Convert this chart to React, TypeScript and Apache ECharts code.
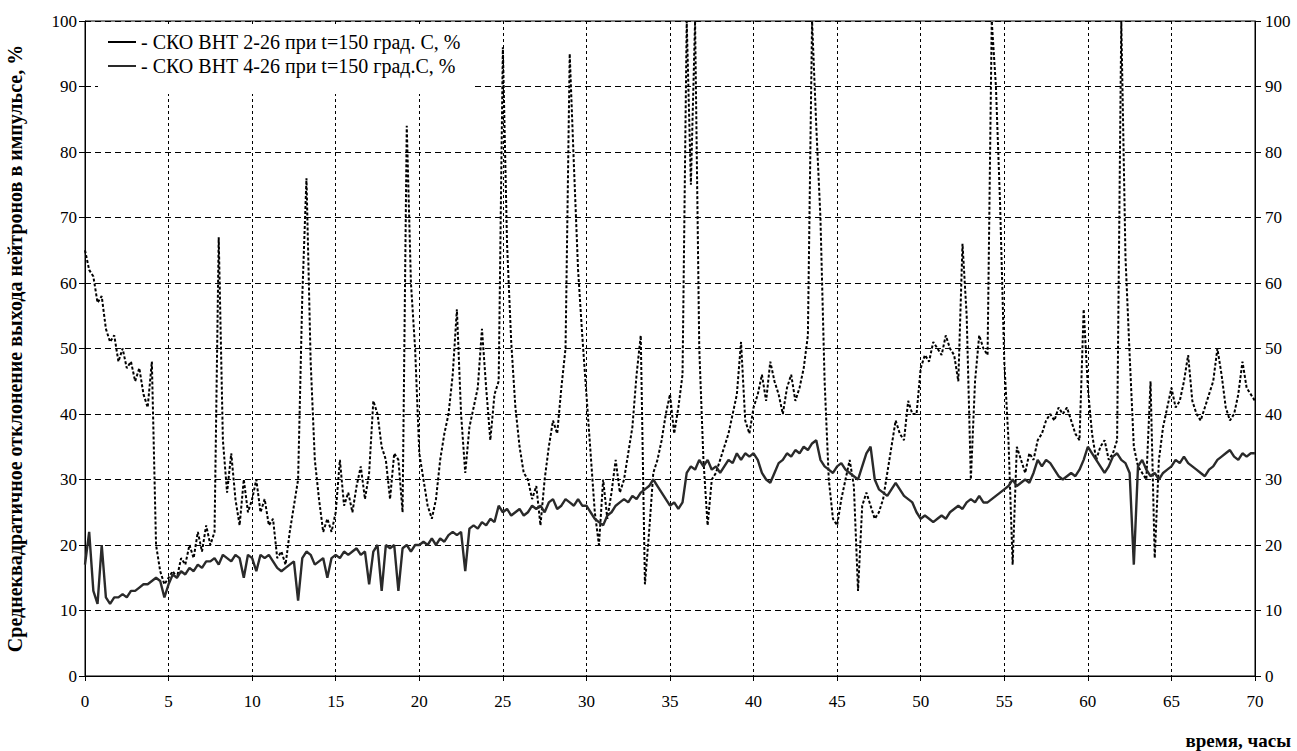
import React, { useEffect, useRef } from "react";
import * as echarts from "echarts";

// time step between samples, hours
const STEP = 0.25;

const xTicks = [0, 5, 10, 15, 20, 25, 30, 35, 40, 45, 50, 55, 60, 65, 70];
const yTicks = [0, 10, 20, 30, 40, 50, 60, 70, 80, 90, 100];

const seriesNames = [
  "СКО ВНТ 2-26 при t=150 град. С, %",
  "СКО ВНТ 4-26 при t=150 град.С, %",
];

// СКО ВНТ 2-26 (dotted), t = 0 .. 70 h, step 0.25 h
const vnt226 = [
  65, 62, 61, 57, 58, 53, 51, 52, 48, 50, 47, 48, 45, 47, 43, 41, 48, 20, 16, 14,
  15, 16, 15, 18, 17, 20, 18, 22, 19, 23, 20, 22, 67, 36, 28, 34, 27, 23, 30, 25,
  27, 30, 25, 27, 23, 24, 18, 19, 17, 22, 26, 30, 58, 76, 48, 33, 27, 22, 24, 22,
  25, 33, 26, 28, 25, 29, 32, 27, 31, 42, 40, 35, 33, 27, 34, 33, 25, 84, 60, 50,
  34, 30, 26, 24, 27, 33, 37, 40, 46, 56, 40, 31, 38, 41, 44, 53, 44, 36, 43, 45,
  96, 66, 51, 41, 35, 31, 30, 27, 29, 23, 30, 35, 39, 37, 44, 50, 95, 78, 62, 52,
  43, 34, 25, 20, 30, 24, 28, 33, 28, 30, 34, 38, 46, 52, 14, 22, 31, 33, 36, 40,
  43, 37, 41, 46, 100, 75, 100, 50, 33, 23, 30, 31, 33, 35, 37, 40, 43, 51, 39, 37,
  41, 43, 46, 42, 48, 45, 43, 40, 44, 46, 42, 44, 47, 52, 100, 84, 70, 45, 30, 24,
  23, 27, 30, 33, 29, 13, 26, 28, 26, 24, 25, 27, 31, 35, 39, 37, 36, 42, 40, 40,
  47, 49, 48, 51, 50, 49, 52, 50, 49, 45, 66, 55, 30, 45, 52, 50, 49, 100, 90, 72,
  48, 36, 17, 35, 33, 31, 34, 33, 36, 37, 39, 40, 39, 41, 40, 41, 39, 37, 36, 56,
  44, 37, 33, 35, 36, 33, 34, 36, 100, 64, 49, 35, 32, 31, 30, 45, 18, 33, 38, 41,
  44, 41, 42, 45, 49, 42, 40, 39, 41, 43, 45, 50, 46, 41, 39, 40, 43, 48, 44, 43,
  42,
];

// СКО ВНТ 4-26 (solid), t = 0 .. 70 h, step 0.25 h
const vnt426 = [
  17, 22, 13, 11, 20, 12, 11, 12, 12, 12.5, 12, 13, 13, 13.5, 14, 14, 14.5, 15, 14.5, 12,
  14, 15.5, 15, 16, 15.5, 16.5, 16, 17, 16.5, 17.5, 17.5, 18, 17, 18.5, 18, 17.5, 18.5, 18, 15, 18.5,
  18, 16, 18.5, 18, 18.5, 17.5, 16.5, 16, 16.5, 17, 17.5, 11.5, 18, 19, 18.5, 17, 17.5, 18, 15, 18,
  18.5, 18, 19, 18.5, 19, 19.5, 18.5, 19, 14, 19, 20, 13, 20, 19.5, 20, 13, 19.5, 20, 19, 20,
  20, 20.5, 20, 21, 20, 21, 20.5, 21.5, 22, 21.5, 22, 16, 22.5, 23, 22.5, 23.5, 23, 24, 23.5, 26,
  25, 25.5, 24.5, 25, 25.5, 24.5, 25, 26, 25.5, 26, 25, 26.5, 27, 25.5, 26, 27, 26.5, 26, 27, 26,
  26, 25, 24, 23.5, 23, 24.5, 25, 26, 26.5, 27, 26.5, 27.5, 27, 28, 28.5, 29, 30, 29, 28, 27,
  26, 26.5, 25.5, 26.5, 31, 32, 31.5, 33, 32, 33, 31.5, 32, 31, 32, 33, 32.5, 34, 33, 34, 33.5,
  34, 33, 31, 30, 29.5, 31, 32.5, 33, 34, 33.5, 34.5, 34, 35, 34.5, 35.5, 36, 33, 32, 31.5, 31,
  32, 32.5, 31.5, 31, 30.5, 30, 32, 34, 35, 30, 28.5, 28, 27.5, 28.5, 29.5, 28.5, 27.5, 27, 26.5, 25,
  24, 24.5, 24, 23.5, 24, 24.5, 24, 25, 25.5, 26, 25.5, 26.5, 27, 26.5, 27.5, 26.5, 26.5, 27, 27.5, 28,
  28.5, 29, 30, 29, 29.5, 30, 29.5, 31, 33, 32, 33, 32.5, 31.5, 30.5, 30, 30.5, 31, 30.5, 31.5, 33,
  35, 34, 33, 32, 31, 32, 33.5, 34, 33, 32.5, 31, 17, 32, 33, 31.5, 30.5, 31, 30, 31, 31.5,
  32, 33, 32.5, 33.5, 32.5, 32, 31.5, 31, 30.5, 31.5, 32, 33, 33.5, 34, 34.5, 33.5, 33, 34, 33.5, 34,
  34,
];

const SERIF = "'Liberation Serif', 'Times New Roman', serif";

function toPairs(vals: number[]): [number, number][] {
  return vals.map((v, i) => [i * STEP, v]);
}

export default function App() {
  const ref = useRef<HTMLDivElement>(null);

  useEffect(() => {
    document.body.style.margin = "0";
    if (!ref.current) return;
    const chart = echarts.init(ref.current, undefined, { renderer: "svg" });

    const axisLabelStyle = { color: "#000", fontFamily: SERIF, fontSize: 17 };

    chart.setOption({
      animation: false,
      backgroundColor: "#fff",
      grid: {
        left: 85,
        right: 42,
        top: 21,
        bottom: 75,
        show: true,
        borderColor: "#000",
        borderWidth: 1,
        backgroundColor: "transparent",
        outerBoundsMode: "none",
        containLabel: false,
      },
      legend: {
        orient: "vertical",
        left: 98,
        top: 24,
        padding: [8, 12, 18, 10],
        backgroundColor: "#fff",
        itemGap: 4,
        itemWidth: 28,
        itemHeight: 2,
        icon: "rect",
        data: seriesNames,
        formatter: (n: string) => "- " + n,
        textStyle: { color: "#000", fontFamily: SERIF, fontSize: 20 },
      },
      xAxis: {
        type: "value",
        min: 0,
        max: 70,
        interval: 5,
        axisLine: { show: true, lineStyle: { color: "#000", width: 1 } },
        axisTick: { show: true, length: 5, lineStyle: { color: "#000" } },
        axisLabel: {
          ...axisLabelStyle,
          margin: 17,
          formatter: (v: number) => (xTicks.includes(v) ? String(v) : ""),
        },
        splitLine: {
          show: true,
          lineStyle: { color: "#000", type: [3, 3], width: 1 },
        },
      },
      yAxis: [
        {
          type: "value",
          min: 0,
          max: 100,
          interval: 10,
          position: "left",
          name: "Среднеквадратичное отклонение выхода нейтронов в импульсе, %",
          nameLocation: "middle",
          nameGap: 60,
          nameTextStyle: {
            color: "#000",
            fontFamily: SERIF,
            fontWeight: "bold",
            fontSize: 20,
          },
          axisLine: { show: true, lineStyle: { color: "#000", width: 1 } },
          axisTick: { show: true, length: 6, lineStyle: { color: "#000" } },
          axisLabel: {
            ...axisLabelStyle,
            margin: 8,
            formatter: (v: number) => (yTicks.includes(v) ? String(v) : ""),
          },
          splitLine: {
            show: true,
            lineStyle: { color: "#000", type: [6, 4], width: 1 },
          },
        },
        {
          type: "value",
          min: 0,
          max: 100,
          interval: 10,
          position: "right",
          axisLine: { show: true, lineStyle: { color: "#000", width: 1 } },
          axisTick: { show: true, length: 6, lineStyle: { color: "#000" } },
          axisLabel: {
            ...axisLabelStyle,
            margin: 10,
            formatter: (v: number) => (yTicks.includes(v) ? String(v) : ""),
          },
          splitLine: { show: false },
        },
      ],
      graphic: [
        {
          type: "text",
          right: 6,
          top: 731,
          style: {
            text: "время, часы",
            fill: "#000",
            font: "bold 19px " + SERIF,
          },
        },
      ],
      series: [
        {
          name: seriesNames[0],
          type: "line",
          data: toPairs(vnt226),
          showSymbol: false,
          symbol: "none",
          yAxisIndex: 0,
          lineStyle: { color: "#000", width: 2, type: [3, 2] },
          itemStyle: { color: "#000" },
          z: 3,
        },
        {
          name: seriesNames[1],
          type: "line",
          data: toPairs(vnt426),
          showSymbol: false,
          symbol: "none",
          yAxisIndex: 0,
          lineStyle: { color: "#2a2a2a", width: 2.4, type: "solid" },
          itemStyle: { color: "#2a2a2a" },
          z: 4,
        },
      ],
    });

    return () => chart.dispose();
  }, []);

  return <div ref={ref} style={{ width: 1297, height: 751 }} />;
}
